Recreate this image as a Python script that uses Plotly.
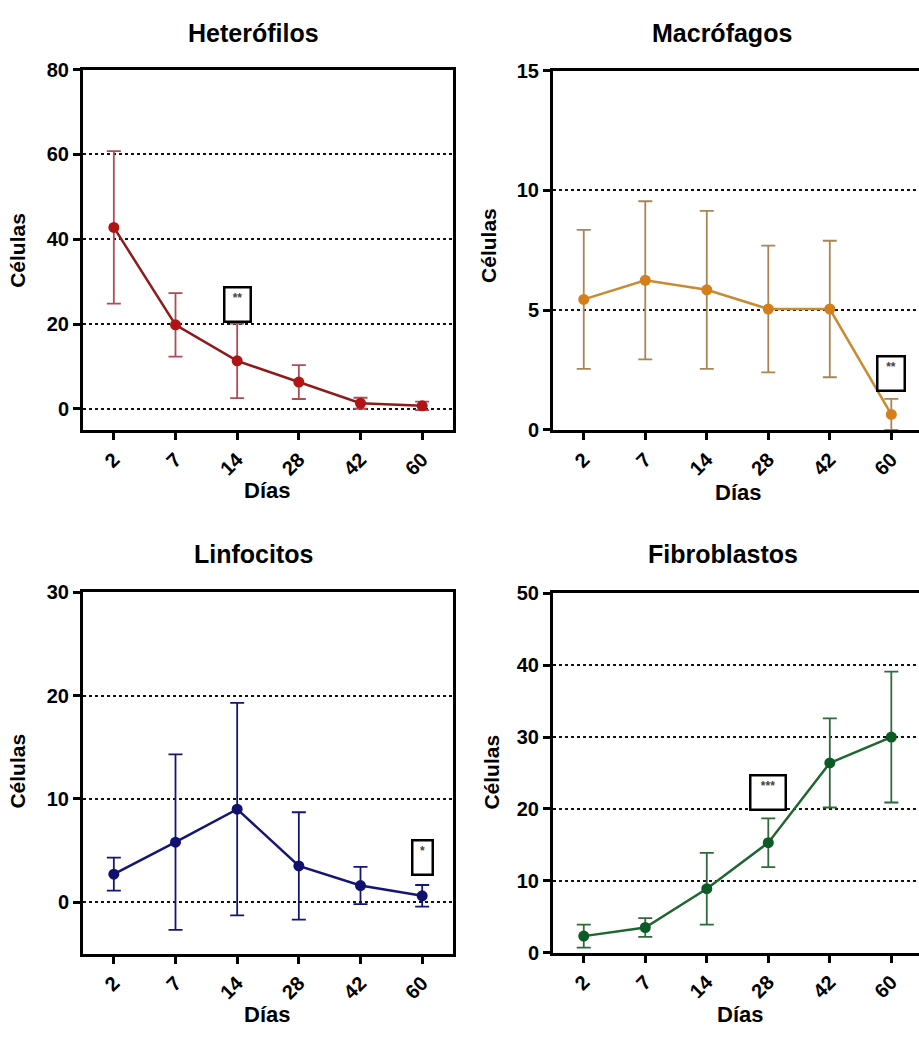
import plotly.graph_objects as go

dias = ["2", "7", "14", "28", "42", "60"]

het_mean = [42.8, 19.8, 11.3, 6.3, 1.3, 0.7]
het_err = [18.0, 7.5, 8.8, 4.0, 1.3, 1.0]

mac_mean = [5.45, 6.25, 5.85, 5.05, 5.05, 0.65]
mac_err = [2.9, 3.3, 3.3, 2.65, 2.85, 0.65]

lin_mean = [2.7, 5.8, 9.0, 3.5, 1.6, 0.6]
lin_err = [1.6, 8.5, 10.3, 5.2, 1.8, 1.05]

fib_mean = [2.3, 3.5, 8.9, 15.3, 26.4, 30.0]
fib_err = [1.6, 1.3, 5.0, 3.4, 6.2, 9.1]

titles = ["Heterófilos", "Macrófagos", "Linfocitos", "Fibroblastos"]
y_ranges = [[-5, 80], [0, 15], [-5, 30], [0, 50]]
y_dticks = [20, 5, 10, 10]
sig_labels = ["**", "**", "*", "***"]
sig_x = ["14", "60", "60", "28"]
sig_y = [24.7, 2.37, 4.3, 22.3]
sig_w = [20, 21, 14, 29]

colors_line = ["#8e1a1a", "#c98a30", "#151575", "#1f6630"]
colors_marker = ["#b01414", "#d4801a", "#10106e", "#0c5a25"]
colors_err = ["#b04a55", "#a98555", "#151575", "#2f6a3a"]

means = [het_mean, mac_mean, lin_mean, fib_mean]
errs = [het_err, mac_err, lin_err, fib_err]

W, H = 919, 1040
FONT = "Liberation Sans, Arial, Helvetica, sans-serif"

# pixel layout of each panel: (left, right, top, bottom, x_range)
panels = [
    (83, 453, 60, 428, [-0.5, 5.5]),
    (553, 919, 61, 428, [-0.5, 5.45]),
    (83, 453, 594, 963, [-0.5, 5.5]),
    (553, 919, 595, 962, [-0.5, 5.45]),
]
title_pos = [(253, 22), (722, 22), (253, 555), (723, 555)]
ytitle_pos = [(18, 245), (489, 240), (18, 777), (492, 777)]
xtitle_pos = [(267, 490), (738, 492), (267, 1025), (740, 1025)]

fig = go.Figure()
layout = dict(
    width=W, height=H, margin=dict(l=0, r=0, t=0, b=0),
    paper_bgcolor="white", plot_bgcolor="white", showlegend=False,
    font=dict(family=FONT, color="black"),
)
annotations = []

for i in range(4):
    l, r, t, b, xr = panels[i]
    xa = "xaxis" if i == 0 else f"xaxis{i+1}"
    ya = "yaxis" if i == 0 else f"yaxis{i+1}"
    xref = "x" if i == 0 else f"x{i+1}"
    yref = "y" if i == 0 else f"y{i+1}"
    fig.add_trace(go.Scatter(
        x=dias, y=means[i], xaxis=xref, yaxis=yref, mode="lines+markers",
        line=dict(color=colors_line[i], width=2.5),
        marker=dict(color=colors_marker[i], size=11),
        error_y=dict(type="data", array=errs[i], visible=True,
                     color=colors_err[i], thickness=1.8, width=7),
        cliponaxis=True,
    ))
    right_panel = i in (1, 3)
    layout[xa] = dict(
        domain=[l / W, r / W], anchor=yref, type="category",
        categoryorder="array", categoryarray=dias,
        range=xr, showgrid=False, zeroline=False,
        showline=True, linecolor="black", linewidth=3, mirror=True,
        ticks="outside", ticklen=7, tickwidth=2.5, tickcolor="black",
        tickangle=-45,
        tickfont=dict(family=FONT, size=20, color="black", weight="bold"),
    )
    layout[ya] = dict(
        domain=[1 - b / H, 1 - t / H], anchor=xref,
        range=y_ranges[i], dtick=y_dticks[i], tick0=0,
        showgrid=True, gridcolor="#111", griddash="dot", gridwidth=2,
        zeroline=False,
        showline=True, linecolor="black", linewidth=3,
        mirror=(not right_panel),
        ticks="outside", ticklen=7, tickwidth=2.5, tickcolor="black",
        tickfont=dict(family=FONT, size=20, color="black", weight="bold"),
    )
    # panel title
    tx, ty = title_pos[i]
    annotations.append(dict(
        x=tx / W, y=1 - ty / H, xref="paper", yref="paper", showarrow=False,
        text="<b>" + titles[i] + "</b>", xanchor="center", yanchor="middle",
        font=dict(family=FONT, size=25, color="black"),
    ))
    yx, yy = ytitle_pos[i]
    annotations.append(dict(
        x=yx / W, y=1 - yy / H, xref="paper", yref="paper", showarrow=False,
        text="<b>Células</b>", textangle=-90, xanchor="center", yanchor="middle",
        font=dict(family=FONT, size=21, color="black"),
    ))
    xx, xy = xtitle_pos[i]
    annotations.append(dict(
        x=xx / W, y=1 - xy / H, xref="paper", yref="paper", showarrow=False,
        text="<b>Días</b>", xanchor="center", yanchor="middle",
        font=dict(family=FONT, size=22, color="black"),
    ))
    # significance box
    annotations.append(dict(
        x=dias.index(sig_x[i]), y=sig_y[i], xref=xref, yref=yref,
        showarrow=False,
        text="<b>" + sig_labels[i] + "</b>", xanchor="center", yanchor="middle",
        width=sig_w[i], height=28, valign="top",
        bordercolor="black", borderwidth=2.5, bgcolor="white", borderpad=2,
        font=dict(family=FONT, size=12, color="#444"),
    ))

layout["annotations"] = annotations
fig.update_layout(**layout)
fig.write_html("out.html")
